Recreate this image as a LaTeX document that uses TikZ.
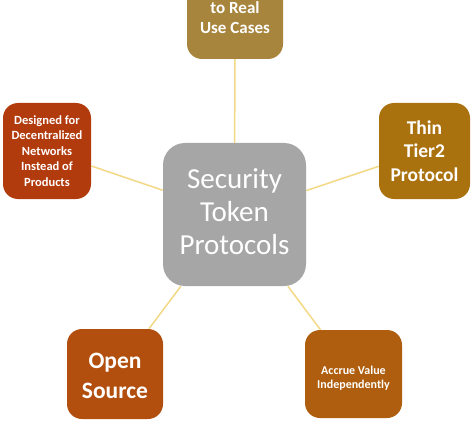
\documentclass[tikz,border=0pt]{standalone}
\usepackage{fontspec}
\setmainfont{Carlito}
\definecolor{cgray}{HTML}{A6A6A6}
\definecolor{cred}{HTML}{B23B0E}
\definecolor{cgold}{HTML}{AA720F}
\definecolor{ctan}{HTML}{A8853C}
\definecolor{corange}{HTML}{B34F0E}
\definecolor{cbrown}{HTML}{AE5E0E}
\definecolor{cline}{HTML}{F3D985}
\tikzset{
  box/.style={rectangle, rounded corners=15pt, inner sep=0pt, text=white, align=center},
  hub/.style={rectangle, rounded corners=22pt, inner sep=0pt, text=white, align=center, fill=cgray},
  link/.style={draw=cline, line width=1.5pt}
}
\begin{document}
\begin{tikzpicture}[x=1pt,y=-1pt]
\useasboundingbox (0,0) rectangle (476,422);
\clip (0,0) rectangle (476,422);
\fill[white] (0,0) rectangle (476,422);
\node[hub, minimum width=143pt, minimum height=143pt, font=\fontsize{29}{33}\selectfont] (c) at (234.5,214.5) {};
\node[text=white, align=center, font=\fontsize{29}{33}\selectfont] (ct) at (234.5,211.5)
  {Security\\Token\\Protocols};
\node[box, fill=ctan, minimum width=96pt, minimum height=102pt, font=\bfseries\fontsize{17}{19.5}\selectfont] (t) at (235,8)
  {Applicable\\to Real\\Use Cases};
\node[box, fill=cred, minimum width=88pt, minimum height=96pt, font=\bfseries\fontsize{12.5}{15.5}\selectfont] (l) at (47,151)
  {Designed for\\Decentralized\\Networks\\Instead of\\Products};
\node[box, fill=cgold, minimum width=91pt, minimum height=96pt, font=\bfseries\fontsize{19.5}{23.5}\selectfont] (r) at (424.5,151)
  {Thin\\Tier2\\Protocol};
\node[box, fill=corange, minimum width=96pt, minimum height=90pt] (bl) at (115,374) {};
\node[text=white, align=center, font=\bfseries\fontsize{23.5}{30}\selectfont] (blt) at (115,376)
  {Open\\Source};
\node[box, fill=cbrown, minimum width=97pt, minimum height=88pt] (br) at (353.5,374) {};
\node[text=white, align=center, font=\bfseries\fontsize{12}{14.5}\selectfont] (brt) at (353.5,378)
  {Accrue Value\\Independently};
\draw[link] (t) -- (c);
\draw[link] (l) -- (c);
\draw[link] (r) -- (c);
\draw[link] (bl) -- (c);
\draw[link] (br) -- (c);
\end{tikzpicture}
\end{document}
